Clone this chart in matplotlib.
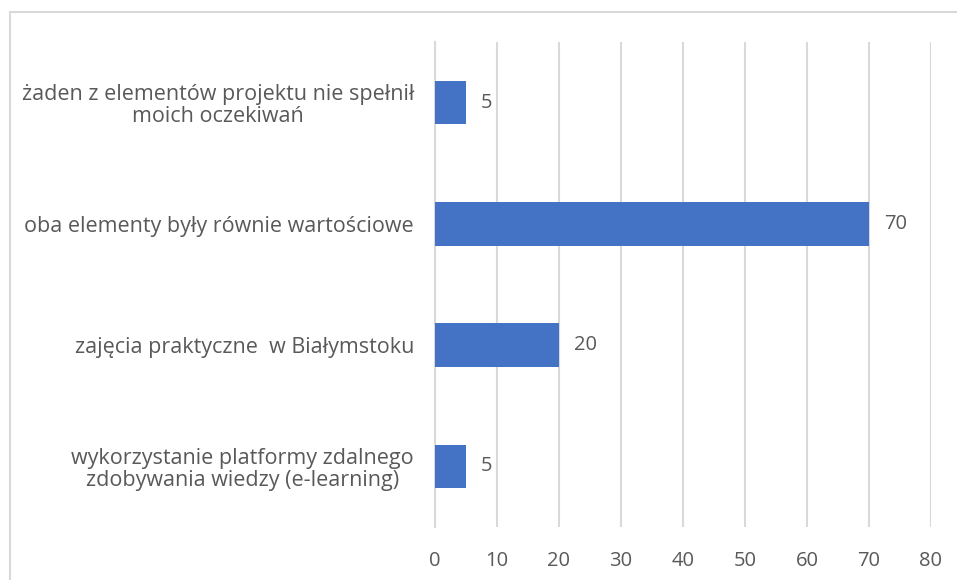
import matplotlib
matplotlib.use("Agg")
import matplotlib.pyplot as plt
from matplotlib.lines import Line2D

categories = [
    "wykorzystanie platformy zdalnego\nzdobywania wiedzy (e-learning)",
    "zajęcia praktyczne  w Białymstoku",
    "oba elementy były równie wartościowe",
    "żaden z elementów projektu nie spełnił\nmoich oczekiwań",
]
values = [5, 20, 70, 5]
xticks = [0, 10, 20, 30, 40, 50, 60, 70, 80]

BAR = "#4472C4"
GRID = "#D9D9D9"
TXT = "#595959"
plt.rcParams["font.family"] = ["Open Sans", "DejaVu Sans"]

fig = plt.figure(figsize=(9.57, 5.8), dpi=100)
ax = fig.add_axes([0.4545, 0.0914, 0.5183, 0.8362])

y = range(len(categories))
ax.barh(y, values, height=0.36, color=BAR, zorder=3)
for yi, v in zip(y, values):
    ax.annotate(str(v), (v, yi), xytext=(11, 0), textcoords="offset points",
                va="center", ha="left", color=TXT, fontsize=14.5)

ax.set_xlim(0, 80)
ax.set_ylim(-0.5, len(categories) - 0.5)
ax.set_xticks(xticks)
ax.set_yticks(list(y))
ax.set_yticklabels(categories, multialignment="center", linespacing=1.05, fontsize=15.5)
ax.tick_params(axis="both", length=0, colors=TXT)
ax.tick_params(axis="x", labelsize=14.5, pad=17)
ax.tick_params(axis="y", pad=15)
ax.grid(axis="x", color=GRID, linewidth=1.5, zorder=0)
for s in ["top", "right", "bottom"]:
    ax.spines[s].set_visible(False)
ax.spines["left"].set_color(GRID)
ax.spines["left"].set_linewidth(1.5)
ax.set_axisbelow(True)

# chart frame (top and left edges visible)
fig.add_artist(Line2D([10 / 957, 1], [1 - 12 / 580, 1 - 12 / 580], color=GRID, lw=1.5, transform=fig.transFigure))
fig.add_artist(Line2D([10 / 957, 10 / 957], [0, 1 - 12 / 580], color=GRID, lw=1.5, transform=fig.transFigure))

fig.savefig("out.png", dpi=100, facecolor="white")
